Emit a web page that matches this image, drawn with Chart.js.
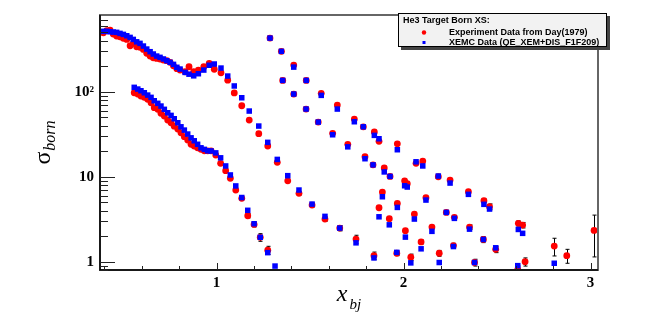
<!DOCTYPE html>
<html lang="en">
<head>
  <meta charset="UTF-8">
  <title>He3 Target Born XS</title>
  <script src="https://cdn.jsdelivr.net/npm/chart.js"></script>
  <style>
    html, body { margin: 0; padding: 0; background: #fff; }
  </style>
</head>
<body>
<canvas id="xsChart" width="664" height="318"></canvas>

<script>
  // one run of x_bj points per kinematic setting
  // exp = Day (1979) data (red), xemc = XEMC model (blue), err = error on exp
  const xA = [0.395, 0.413, 0.431, 0.448, 0.466, 0.484, 0.502, 0.520, 0.538, 0.555,
              0.573, 0.591, 0.609, 0.627, 0.645, 0.662, 0.680, 0.698, 0.716, 0.734,
              0.752, 0.770, 0.788, 0.805, 0.832, 0.853, 0.878, 0.903, 0.932, 0.961,
              0.988, 1.024, 1.060, 1.095, 1.135, 1.175, 1.226, 1.274, 1.325, 1.381,
              1.441, 1.511, 1.580, 1.659, 1.746, 1.842];
  const expA = [494, 522, 532, 477, 452, 444, 425, 413, 348, 371,
                338, 333, 315, 283, 263, 251, 247, 243, 236, 232,
                222, 202, 187, 180, 172, 197, 172, 180, 197, 216,
                184, 167, 137, 97, 68.5, 46.5, 32.1, 23.0, 14.8, 8.97,
                6.38, 4.64, 3.18, 2.49, 1.85, 1.18];
  const xemcA = [514, 514, 508, 504, 500, 486, 473, 456, 436, 413,
                 387, 371, 345, 318, 296, 278, 263, 254, 243, 232,
                 222, 210, 194, 185, 169, 161, 154, 163, 180, 205,
                 212, 190, 153, 117, 85, 59.3, 39.5, 25.4, 16.0, 10.3,
                 6.98, 4.77, 3.42, 2.49, 1.67, 1.11];
  const errA = [0, 0, 0, 0, 0, 0, 0, 0, 0, 0,
                0, 0, 0, 0, 0, 0, 0, 0, 0, 0,
                0, 0, 0, 0, 0, 0, 0, 0, 0, 0,
                0, 0, 0, 0, 0, 0, 0, 0, 0, 0,
                0.3, 0.25, 0.2, 0.18, 0.2, 0.12];

  const xB = [0.560, 0.579, 0.596, 0.614, 0.632, 0.650, 0.667, 0.686, 0.703, 0.721,
              0.739, 0.757, 0.774, 0.793, 0.810, 0.828, 0.846, 0.864, 0.881, 0.899,
              0.917, 0.935, 0.953, 0.971, 0.996, 1.022, 1.049, 1.074, 1.103, 1.135,
              1.167, 1.201, 1.234, 1.274, 1.313];
  const expB = [97.3, 94.0, 89.0, 85.9, 81.4, 74.3, 64.9, 62.1, 55.7, 51.8,
                46.5, 43.2, 39.4, 36.4, 32.9, 29.6, 27.0, 24.1, 23.0, 21.9,
                21.0, 20.2, 20.2, 20.2, 18.0, 14.4, 11.8, 9.6, 6.98, 5.57,
                3.48, 2.75, 1.94, 1.37, null];
  const xemcB = [112.7, 107.6, 102.8, 97.3, 91.4, 85.9, 78.4, 73.1, 67.9, 62.1,
                 56.6, 52.7, 48.1, 43.2, 38.7, 35.4, 31.8, 28.7, 26.5, 24.1,
                 21.9, 21.0, 20.2, 20.1, 19.1, 16.7, 13.4, 10.5, 7.8, 5.7,
                 4.03, 2.80, 1.94, 1.28, 0.89];
  const errB = [0, 0, 0, 0, 0, 0, 0, 0, 0, 0,
                0, 0, 0, 0, 0, 0, 0, 0, 0, 0,
                0, 0, 0, 0, 0, 0, 0, 0, 0, 0,
                0.2, 0.18, 0.2, 0.15, 0];

  const xC = [1.286, 1.347, 1.413, 1.480, 1.560, 1.646, 1.737, 1.844, 1.967, 2.103, 2.249, 2.430, 2.614, 2.806];
  const expC = [428, 299, 206, 136, 95.8, 69.8, 47.7, 33.6, 24.4, 15.3, 9.15, 5.22, 2.83, 1.53];
  const xemcC = [428, 299, 195, 136, 90.7, 62.6, 44.4, 30.7, 20.8, 13.4, 8.43, 4.74, 2.40, 0.96];
  const errC = [0, 0, 0, 0, 0, 0, 0, 0, 0, 0, 0, 0.25, 0.2, 0.36];

  const xD = [1.354, 1.413, 1.479, 1.544, 1.621, 1.702, 1.794, 1.897, 2.006, 2.120, 2.272, 2.427, 2.611];
  const expD = [136, 94.0, 62.6, 44.0, 32.4, 24.1, 17.2, 12.7, 8.97, 5.66, 3.33, 1.83, 0.81];
  const xemcD = [136, 94.0, 62.6, 44.0, 31.2, 22.5, 16.3, 11.4, 7.84, 5.32, 3.24, 1.83, 0.90];
  const errD = [0, 0, 0, 0, 0, 0, 0, 0, 0, 0, 0, 0.15, 0.08];

  const xE = [1.785, 1.869, 2.067, 2.186, 2.347, 2.460, 2.637, 2.873];
  const expE = [38.7, 26.1, 14.4, 10.0, 6.66, 4.44, 2.70, 1.18];
  const xemcE = [38.7, 28.0, 15.0, 10.2, 6.21, 4.17, 2.16, null];
  const errE = [0, 0, 0, 0, 0.4, 0.35, 0.2, 0.22];

  const xF = [1.837, 1.928, 2.020, 2.229, 2.353, 2.493, 2.650, 3.019];
  const expF = [13.8, 10.1, 8.27, 3.81, 2.56, 1.40, 1.00, 2.34];
  const xemcF = [13.8, 10.1, 7.57, 3.81, 2.42, 1.46, null, null];
  const errF = [0, 0, 0, 0, 0.15, 0.12, 0.11, 1.2];

  const xG = [1.887, 1.967, 2.058, 2.152, 2.267, 2.380];
  const expG = [6.61, 4.86, 3.64, 2.56, 1.55, 0.98];
  const xemcG = [5.82, 4.36, 3.18, 2.28, 1.51, 0.98];
  const errG = [0, 0, 0, 0, 0.1, 0.09];

  const xH = [1.869, 1.924, 2.010, 2.094, 2.191];
  const expH = [4.32, 3.21, 2.32, 1.71, 1.26];
  const xemcH = [3.38, 2.72, 1.95, 1.42, 0.98];
  const errH = [0.2, 0.15, 0.12, 0.1, 0.1];

  const xI = [1.964, 2.039];
  const expI = [1.26, 1.13];
  const xemcI = [1.29, 0.97];
  const errI = [0.08, 0.1];

  const xTicks = [0.4, 0.6, 0.8, 1, 1.2, 1.4, 1.6, 1.8, 2, 2.2, 2.4, 2.6, 2.8, 3];
  const xLabelValues = [1, 2, 3];
  const yTicks = [0.8, 0.9, 1, 2, 3, 4, 5, 6, 7, 8, 9, 10, 20, 30, 40, 50, 60, 70, 80, 90,
                  100, 200, 300, 400, 500, 600, 700];
  const yLabelValues = [1, 10, 100];
  const yLabelTexts = ['1', '10', '10\u00b2'];

  const legendTitle = 'He3 Target Born XS:';
  const legendLabels = ['Experiment Data from Day(1979)', 'XEMC Data (QE_XEM+DIS_F1F209)'];

  const settings = [
    {x: xA, exp: expA, xemc: xemcA, err: errA},
    {x: xB, exp: expB, xemc: xemcB, err: errB},
    {x: xC, exp: expC, xemc: xemcC, err: errC},
    {x: xD, exp: expD, xemc: xemcD, err: errD},
    {x: xE, exp: expE, xemc: xemcE, err: errE},
    {x: xF, exp: expF, xemc: xemcF, err: errF},
    {x: xG, exp: expG, xemc: xemcG, err: errG},
    {x: xH, exp: expH, xemc: xemcH, err: errH},
    {x: xI, exp: expI, xemc: xemcI, err: errI}
  ];

  const toPoints = key => settings.flatMap(s =>
    s.x.map((xv, i) => ({x: xv, y: s[key][i]})).filter(p => p.y != null));

  const RED = '#ff0000', BLUE = '#0000ff';
  const serif = '"Liberation Serif", "Times New Roman", serif';
  const sans = '"Liberation Sans", Arial, sans-serif';

  // ROOT look: frame, inside ticks, error bars, axis titles, legend box
  const rootStyle = {
    id: 'rootStyle',
    beforeDatasetsDraw(chart) {
      const {ctx, chartArea: a, scales: {x, y}} = chart;
      ctx.save();
      ctx.beginPath();
      ctx.rect(a.left, a.top, a.right - a.left, a.bottom - a.top);
      ctx.clip();
      ctx.strokeStyle = '#000';
      ctx.lineWidth = 1;
      settings.forEach(s => s.x.forEach((xv, i) => {
        const v = s.exp[i], e = s.err[i];
        if (v == null || !e) return;
        const px = Math.round(x.getPixelForValue(xv)) + 0.5;
        const top = y.getPixelForValue(v + e);
        const bot = y.getPixelForValue(Math.max(v - e, 0.05));
        ctx.beginPath();
        ctx.moveTo(px, top); ctx.lineTo(px, bot);
        ctx.moveTo(px - 2, top); ctx.lineTo(px + 2, top);
        ctx.moveTo(px - 2, bot); ctx.lineTo(px + 2, bot);
        ctx.stroke();
      }));
      ctx.restore();
    },
    afterDraw(chart) {
      const {ctx, chartArea: a, scales: {x, y}} = chart;
      ctx.save();

      // frame
      ctx.strokeStyle = '#666';
      ctx.lineWidth = 2;
      ctx.strokeRect(a.left, a.top, a.right - a.left, a.bottom - a.top);
      ctx.strokeStyle = '#000';
      ctx.lineWidth = 1.5;
      ctx.beginPath();
      ctx.moveTo(a.left, a.top); ctx.lineTo(a.left, a.bottom); ctx.lineTo(a.right, a.bottom);
      ctx.stroke();

      // ticks inside the frame
      ctx.lineWidth = 1;
      ctx.strokeStyle = '#222';
      ctx.beginPath();
      y.ticks.forEach(t => {
        const py = Math.round(y.getPixelForValue(t.value)) + 0.5;
        const len = yLabelValues.includes(t.value) ? 15 : 8;
        ctx.moveTo(a.left, py); ctx.lineTo(a.left + len, py);
      });
      x.ticks.forEach(t => {
        const px = Math.round(x.getPixelForValue(t.value)) + 0.5;
        const len = xLabelValues.includes(t.value) ? 7 : 4;
        ctx.moveTo(px, a.bottom); ctx.lineTo(px, a.bottom - len);
      });
      ctx.stroke();

      // y title: sigma_born, rotated
      ctx.fillStyle = '#000';
      ctx.save();
      ctx.translate(50, (a.top + a.bottom) / 2);
      ctx.rotate(-Math.PI / 2);
      ctx.font = '24px ' + serif;
      const wSig = ctx.measureText('\u03c3').width;
      ctx.font = 'italic 16px ' + serif;
      const wBorn = ctx.measureText('born').width;
      let rx = -(wSig + wBorn + 1) / 2;
      ctx.textBaseline = 'alphabetic';
      ctx.font = '24px ' + serif;
      ctx.fillText('\u03c3', rx, 0);
      ctx.font = 'italic 16px ' + serif;
      ctx.fillText('born', rx + wSig + 1, 5);
      ctx.restore();

      // x title: x_bj
      ctx.font = 'italic 24px ' + serif;
      const wX = ctx.measureText('x').width;
      ctx.font = 'italic 15px ' + serif;
      const wBj = ctx.measureText('bj').width;
      const tx = (a.left + a.right) / 2 - (wX + wBj + 2) / 2;
      ctx.textBaseline = 'alphabetic';
      ctx.font = 'italic 24px ' + serif;
      ctx.fillText('x', tx, 301);
      ctx.font = 'italic 15px ' + serif;
      ctx.fillText('bj', tx + wX + 2, 309);

      // legend box with shadow
      const lx = 398, ly = 13, lw = 209, lh = 34;
      ctx.fillStyle = '#444';
      ctx.fillRect(lx + 3, ly + 3, lw, lh);
      ctx.fillStyle = '#f2f2f2';
      ctx.fillRect(lx, ly, lw, lh);
      ctx.strokeStyle = '#000';
      ctx.lineWidth = 1;
      ctx.strokeRect(lx + 0.5, ly + 0.5, lw - 1, lh - 1);
      ctx.fillStyle = '#000';
      ctx.font = 'bold 9px ' + sans;
      ctx.textBaseline = 'middle';
      ctx.fillText(legendTitle, lx + 5, ly + 8);
      ctx.fillText(legendLabels[0], lx + 51, ly + 19.5);
      ctx.fillText(legendLabels[1], lx + 51, ly + 29.5);
      ctx.fillStyle = RED;
      ctx.beginPath();
      ctx.arc(lx + 26, ly + 19.5, 2.2, 0, Math.PI * 2);
      ctx.fill();
      ctx.fillStyle = BLUE;
      ctx.fillRect(lx + 24.5, ly + 28, 3, 3);

      ctx.restore();
    }
  };

  new Chart(document.getElementById('xsChart'), {
    type: 'scatter',
    data: {
      datasets: [
        {
          label: legendLabels[1],
          data: toPoints('xemc'),
          pointStyle: 'rect',
          pointRadius: 3.9,
          backgroundColor: BLUE,
          borderWidth: 0,
          order: 0
        },
        {
          label: legendLabels[0],
          data: toPoints('exp'),
          pointStyle: 'circle',
          pointRadius: 3.4,
          backgroundColor: RED,
          borderWidth: 0,
          order: 1
        }
      ]
    },
    options: {
      responsive: false,
      animation: false,
      events: [],
      layout: { padding: { top: 15, right: 66, bottom: 0, left: 0 } },
      plugins: { legend: { display: false }, tooltip: { enabled: false } },
      scales: {
        x: {
          type: 'linear',
          min: 0.377,
          max: 3.04,
          grid: { display: false, drawTicks: false },
          border: { display: false },
          afterBuildTicks: s => { s.ticks = xTicks.map(v => ({value: v})); },
          afterFit: s => { s.height = 48; },
          ticks: {
            autoSkip: false,
            maxRotation: 0,
            padding: 4,
            color: '#000',
            font: { family: serif, size: 15, weight: 'bold' },
            callback: v => xLabelValues.includes(v) ? String(v) : ''
          }
        },
        y: {
          type: 'logarithmic',
          min: 0.8,
          max: 800,
          grid: { display: false, drawTicks: false },
          border: { display: false },
          afterBuildTicks: s => { s.ticks = yTicks.map(v => ({value: v})); },
          afterFit: s => { s.width = 100; },
          ticks: {
            autoSkip: false,
            padding: 6,
            color: '#000',
            font: { family: serif, size: 15, weight: 'bold' },
            callback: v => {
              const k = yLabelValues.indexOf(v);
              return k >= 0 ? yLabelTexts[k] : '';
            }
          }
        }
      }
    },
    plugins: [rootStyle]
  });
</script>
</body>
</html>
